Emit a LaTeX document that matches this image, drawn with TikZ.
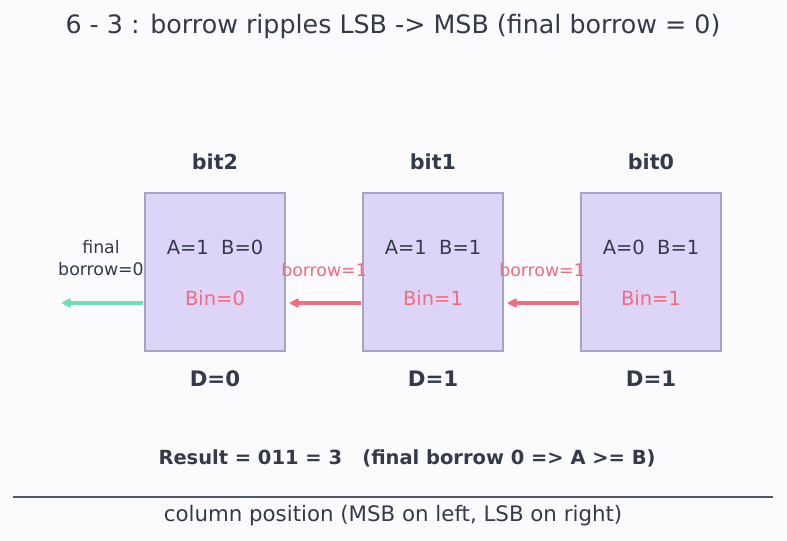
\documentclass[tikz,border=0pt]{standalone}
\usepackage{fontspec}
\setmainfont{DejaVu Sans}
\usepackage{xcolor}
\usetikzlibrary{arrows.meta}
\usetikzlibrary{positioning}
\definecolor{fundo}{HTML}{FBFBFE}
\definecolor{texto}{HTML}{333A4A}
\definecolor{lilas}{HTML}{DDD5F8}
\definecolor{borda}{HTML}{A8A4C0}
\definecolor{vermelho}{HTML}{F26B7F}
\definecolor{verde}{HTML}{6EE0B4}
\tikzset{
  coluna/.style={draw=borda, line width=1.8pt, fill=lilas, minimum width=105pt, minimum height=118.5pt, inner sep=0pt},
  rotulo/.style={text=texto, font=\fontsize{15.5}{18}\selectfont\bfseries},
  saida/.style={text=texto, font=\fontsize{16}{19}\selectfont\bfseries},
  entradas/.style={text=texto, font=\fontsize{14.6}{17}\selectfont},
  emprestimo/.style={text=vermelho, font=\fontsize{14.6}{17}\selectfont},
  seta/.style={-{Stealth[length=9pt,width=9pt,round]}, line width=2.8pt},
  legenda/.style={text=vermelho, font=\fontsize{13}{15}\selectfont},
}
\begin{document}
\begin{tikzpicture}[x=0.75pt, y=-0.75pt]
  \fill[fundo] (0,0) rectangle (787,540);
  \useasboundingbox (0,0) rectangle (787,540);
  \node[text=texto, font=\fontsize{19}{22}\selectfont] (titulo) at (393,27) {6 - 3 : borrow ripples LSB -> MSB (final borrow = 0)};
  % colunas (MSB a esquerda)
  \node[coluna] (b2) at (215,272) {};
  \node[coluna] (b1) at (433,272) {};
  \node[coluna] (b0) at (651,272) {};
  \foreach \n/\r/\ab/\bin/\d in {b2/bit2/{A=1\ \ B=0}/Bin=0/D=0, b1/bit1/{A=1\ \ B=1}/Bin=1/D=1, b0/bit0/{A=0\ \ B=1}/Bin=1/D=1} {
    \node[rotulo] (r\n) at ([yshift=22.5pt]\n.north) {\r};
    \node[entradas] (ab\n) at ([yshift=18.75pt]\n.center) {\ab};
    \node[emprestimo] (bin\n) at ([yshift=-19.5pt]\n.center) {\bin};
    \node[saida] (d\n) at ([yshift=-20.25pt]\n.south) {\d};
  }
  % emprestimos
  \coordinate (s0) at (579,303);
  \coordinate (e0) at (508,303);
  \coordinate (s1) at (361,303);
  \coordinate (e1) at (290,303);
  \coordinate (s2) at (143,303);
  \coordinate (e2) at (62,303);
  \draw[seta, vermelho] (s0) -- (e0);
  \draw[seta, vermelho] (s1) -- (e1);
  \draw[seta, verde] (s2) -- (e2);
  \node[legenda] (l0) at (542,270) {borrow=1};
  \node[legenda] (l1) at (324,270) {borrow=1};
  \node[text=texto, align=center, font=\fontsize{13}{16}\selectfont] (final) at (101,258) {final\\borrow=0};
  \node[text=texto, font=\fontsize{14.6}{17}\selectfont\bfseries] (resultado) at (407,458) {Result = 011 = 3\ \ \ (final borrow 0 => A >= B)};
  \coordinate (eixoA) at (13,497);
  \coordinate (eixoB) at (773,497);
  \draw[texto!85, line width=1pt] (eixoA) -- (eixoB);
  \node[text=texto, font=\fontsize{16}{19}\selectfont] (eixo) at (393,516) {column position (MSB on left, LSB on right)};
\end{tikzpicture}
\end{document}
